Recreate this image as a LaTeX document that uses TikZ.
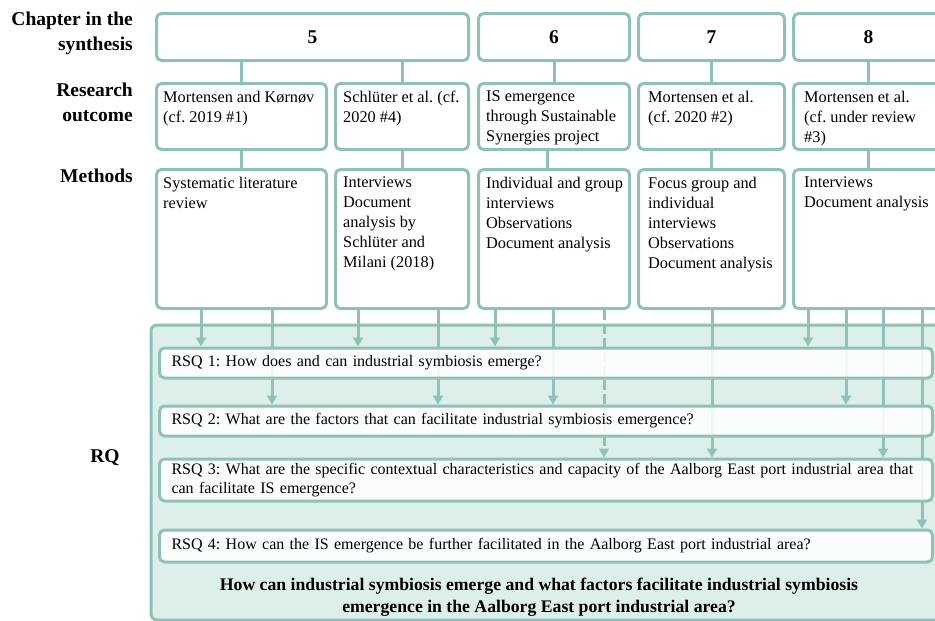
\documentclass[tikz,border=0pt]{standalone}
\usepackage{fontspec}
\setmainfont{Liberation Serif}
\usetikzlibrary{arrows.meta}
\definecolor{lineteal}{HTML}{8FC1B9}
\definecolor{panelgreen}{HTML}{DDEFE9}
\pgfdeclarelayer{back}
\pgfdeclarelayer{links}
\pgfsetlayers{back,links,main}
\frenchspacing

\begin{document}
\begin{tikzpicture}[x=1pt,y=-1pt,
  chapbox/.style={draw=lineteal,line width=3pt,rounded corners=5pt,fill=white,anchor=north west,inner sep=0pt,minimum height=47pt,font=\fontsize{19.5}{20}\selectfont\bfseries},
  outbox/.style={chapbox,minimum height=66pt},
  methbox/.style={chapbox,minimum height=139pt},
  boxtext/.style={anchor=north west,inner sep=0pt,align=left,font=\fontsize{16.3}{20}\selectfont},
  rowlabel/.style={anchor=north east,inner sep=0pt,align=right,font=\fontsize{19.5}{24.5}\selectfont\bfseries},
  rsq/.style={draw=lineteal,line width=3pt,rounded corners=5pt,fill=white,fill opacity=0.88,text opacity=1,text width=749pt,inner xsep=12pt,inner ysep=0pt,align=left,font=\fontsize{16}{19}\selectfont},
  link/.style={draw=lineteal,line width=3pt},
  arrow/.style={link,-{Triangle[width=10pt,length=9pt]}}]
\useasboundingbox (0,0) rectangle (935,621);

% row labels
\node[rowlabel] (lchap) at (133,12) {Chapter in the\\synthesis};
\node[rowlabel] (lout) at (133,83) {Research\\outcome};
\node[rowlabel] (lmeth) at (133,169) {Methods};
\node[rowlabel,anchor=center] (lrq) at (105,458) {RQ};

% chapters
\node[chapbox,minimum width=312pt] (c5) at (155,12) {5};
\node[chapbox,minimum width=151pt] (c6) at (477,12) {6};
\node[chapbox,minimum width=146pt] (c7) at (637,12) {7};
\node[chapbox,minimum width=150pt] (c8) at (792,12) {8};

% research outcomes
\node[outbox,minimum width=170pt] (r5a) at (155,82) {};
\node[outbox,minimum width=133pt] (r5b) at (334,82) {};
\node[outbox,minimum width=151pt] (r6) at (477,82) {};
\node[outbox,minimum width=146pt] (r7) at (637,82) {};
\node[outbox,minimum width=150pt] (r8) at (792,82) {};
\node[boxtext] (tr5a) at ([shift={(8,9)}]r5a.north west) {Mortensen and Kørnøv\\(cf. 2019 \#1)};
\node[boxtext] (tr5b) at ([shift={(9,9)}]r5b.north west) {Schlüter et al. (cf.\\2020 \#4)};
\node[boxtext] (tr6) at ([shift={(9,9)}]r6.north west) {IS emergence\\through Sustainable\\Synergies project};
\node[boxtext] (tr7) at ([shift={(11,9)}]r7.north west) {Mortensen et al.\\(cf. 2020 \#2)};
\node[boxtext] (tr8) at ([shift={(12,9)}]r8.north west) {Mortensen et al.\\(cf. under review\\\#3)};

% methods
\node[methbox,minimum width=170pt] (m5a) at (155,168) {};
\node[methbox,minimum width=133pt] (m5b) at (334,168) {};
\node[methbox,minimum width=151pt] (m6) at (477,168) {};
\node[methbox,minimum width=146pt] (m7) at (637,168) {};
\node[methbox,minimum width=150pt] (m8) at (792,168) {};
\node[boxtext] (tm5a) at ([shift={(8,9)}]m5a.north west) {Systematic literature\\review};
\node[boxtext] (tm5b) at ([shift={(9,9)}]m5b.north west) {Interviews\\Document\\analysis by\\Schlüter and\\Milani (2018)};
\node[boxtext] (tm6) at ([shift={(9,9)}]m6.north west) {Individual and group\\interviews\\Observations\\Document analysis};
\node[boxtext] (tm7) at ([shift={(11,9)}]m7.north west) {Focus group and\\individual\\interviews\\Observations\\Document analysis};
\node[boxtext] (tm8) at ([shift={(12,9)}]m8.north west) {Interviews\\Document analysis};

% research sub-questions
\node[rsq,minimum height=30pt] (q1) at (546,363) {RSQ 1: How does and can industrial symbiosis emerge?};
\node[rsq,minimum height=30pt] (q2) at (546,421) {RSQ 2: What are the factors that can facilitate industrial symbiosis emergence?};
\node[rsq,minimum height=42pt] (q3) at (546,480) {RSQ 3: What are the specific contextual characteristics and capacity of the Aalborg East port industrial area that\\can facilitate IS emergence?};
\node[rsq,minimum height=32pt] (q4) at (546,546) {RSQ 4: How can the IS emergence be further facilitated in the Aalborg East port industrial area?};
\node[align=center,inner sep=0pt,font=\fontsize{17.7}{22}\selectfont\bfseries] (rq) at (539,597) {How can industrial symbiosis emerge and what factors facilitate industrial symbiosis\\emergence in the Aalborg East port industrial area?};

\begin{pgfonlayer}{back}
\draw[draw=lineteal,fill=panelgreen,line width=3pt,rounded corners=6pt] (151,325) rectangle (965,620);
\end{pgfonlayer}

\begin{pgfonlayer}{links}
\draw[link] (c5.south -| r5a.north) -- (r5a.north);
\draw[link] (c5.south -| r5b.north) -- (r5b.north);
\draw[link] (c6.south) -- (r6.north);
\draw[link] (c7.south) -- (r7.north);
\draw[link] (c8.south) -- (r8.north);
\draw[link] (r5a.south) -- (m5a.north);
\draw[link] (r5b.south) -- (m5b.north);
\draw[link] (r6.south -| 547,0) -- (m6.north -| 547,0);
\draw[link] (r7.south) -- (m7.north);
\draw[link] (r8.south) -- (m8.north);
\foreach \xx/\src/\dst in {201/m5a/q1,272/m5a/q2,358/m5b/q1,438/m5b/q2,495/m6/q1,553/m6/q2,
  712/m7/q3,808/m8/q1,846/m8/q2,883/m8/q3,922/m8/q4}
  \draw[arrow] (\src.south -| \xx,0) -- (\dst.north -| \xx,0);
\draw[arrow,dash pattern=on 10pt off 4pt] (m6.south -| 604,0) -- (q3.north -| 604,0);
\end{pgfonlayer}

\end{tikzpicture}
\end{document}
